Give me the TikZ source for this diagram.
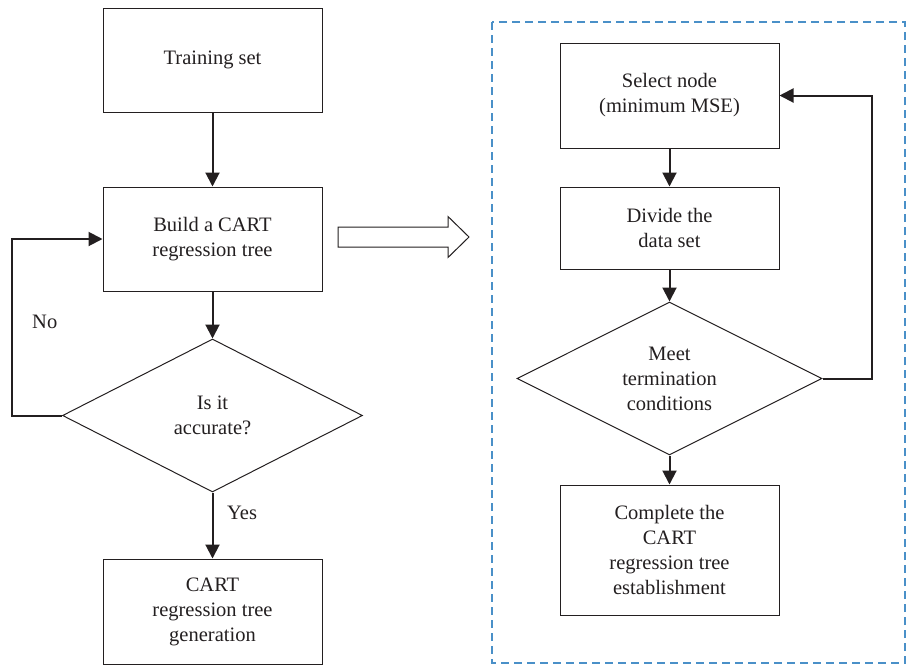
\documentclass[tikz,border=0pt]{standalone}
\usepackage{fontspec}
\setmainfont{Liberation Serif}
\usetikzlibrary{shapes.geometric,arrows.meta}
\definecolor{ink}{HTML}{231F20}
\definecolor{frameblue}{RGB}{74,144,200}
\begin{document}
\begin{tikzpicture}[x=1pt,y=-1pt,
  every node/.style={font=\fontsize{20.5}{25}\selectfont, text=ink},
  stepbox/.style={draw=ink, line width=1pt, minimum width=219pt, inner sep=0pt, align=center},
  decision/.style={diamond, draw=ink, line width=1pt, aspect=1.95, minimum width=300pt,
    minimum height=153pt, inner sep=0pt, align=center},
  flow/.style={draw=ink, line width=2pt, -{Triangle[length=14pt,width=14pt]}},
  tag/.style={inner sep=0pt, anchor=west},
  blockarrow/.style={draw=ink, line width=1pt, fill=white, line join=miter},
  groupframe/.style={draw=frameblue, line width=1.3pt, dash pattern=on 8pt off 5pt}
]
\useasboundingbox (0,0) rectangle (908,665);

% left flow: build the tree and repeat until it is accurate
\node[stepbox, minimum height=104pt] (train) at (212.5,60) {Training set};
\node[stepbox, minimum height=104pt] (build) at (212.5,239) {Build a CART\\regression tree};
\node[decision] (acc) at (212.5,415.5) {Is it\\accurate?};
\node[stepbox, minimum height=105pt] (gen) at (212.5,611.5) {CART\\regression tree\\generation};

\draw[flow] (train) -- (build);
\draw[flow] (build) -- (acc);
\draw[flow] (acc) -- (gen);
\draw[flow] (acc.west) -- ++(-50,0) coordinate (noturn) |- (build.west);
\node[tag] (yes) at (227,513) {Yes};
\node[tag] (no) at (32,322) {No};

% hollow arrow pointing to the detailed steps
\draw[blockarrow] (338,227) -- (448,227) -- (448,216.5) -- (469,237) -- (448,257.5)
  -- (448,247) -- (338,247) -- cycle;

% detailed steps inside the dashed frame
\draw[groupframe] (492,22) rectangle (905,663);
\node[stepbox, minimum height=105pt] (sel) at (669.5,95.5) {Select node\\(minimum MSE)};
\node[stepbox, minimum height=82pt] (div) at (669.5,228) {Divide the\\data set};
\node[decision, minimum width=305pt] (meet) at (669.5,378.5) {Meet\\termination\\conditions};
\node[stepbox, minimum height=130pt] (done) at (669.5,550) {Complete the\\CART\\regression tree\\establishment};

\draw[flow] (sel) -- (div);
\draw[flow] (div) -- (meet);
\draw[flow] (meet) -- (done);
\draw[flow] (meet.east) -- ++(49,0) coordinate (loopturn) |- (sel.east);
\end{tikzpicture}
\end{document}
